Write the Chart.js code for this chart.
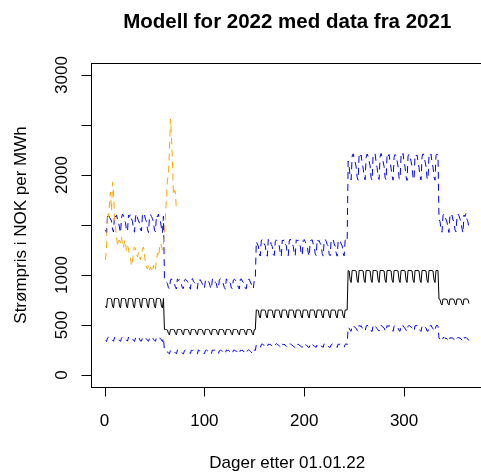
<!DOCTYPE html>
<html>
<head>
<meta charset="utf-8">
<script src="https://cdn.jsdelivr.net/npm/chart.js@4.4.1/dist/chart.umd.min.js"></script>
<style>
  html, body { margin: 0; padding: 0; background: #fff; width: 481px; height: 475px; overflow: hidden; }
  #wrap { position: relative; width: 490px; height: 475px; }
  canvas { display: block; }
</style>
</head>
<body>
<div id="wrap"><canvas id="c" width="490" height="475"></canvas></div>
<script>
// Daily price model for 2022 (NOK/MWh), built from 2021 data.
// Seasons: Jan-Feb (days 1-59), Mar-May (60-151), Jun-Aug (152-243), Sep-Nov (244-334), Dec (335-365).
// Day 1 (01.01.22) is a Saturday.

const title = "Modell for 2022 med data fra 2021";
const xTitle = "Dager etter 01.01.22";
const yTitle = "Strømpris i NOK per MWh";
const xTicks = [0, 100, 200, 300];
const yTicks = [0, 500, 1000, 1500, 2000, 2500, 3000];
const yTickLabels = ["0", "500", "1000", "", "2000", "", "3000"];

// Model median
const median = [
  690,670,
  765,765,765,765,760,690,670, 765,765,765,765,760,690,670, 765,765,765,765,760,690,670, 765,765,765,765,760,690,670,
  765,765,765,765,760,690,670, 765,765,765,765,760,690,670, 765,765,765,765,760,690,670, 765,765,765,765,760,690,670,
  765,
  455,455,455,450,415,400,
  455,455,455,455,450,415,400, 455,455,455,455,450,415,400, 455,455,455,455,450,415,400, 455,455,455,455,450,415,400,
  455,455,455,455,450,415,400, 455,455,455,455,450,415,400, 455,455,455,455,450,415,400, 455,455,455,455,450,415,400,
  455,455,455,455,450,415,400, 455,455,455,455,450,415,400, 455,455,455,455,450,415,400, 455,455,455,455,450,415,400,
  455,455,
  650,650,645,590,570,
  650,650,650,650,645,590,570, 650,650,650,650,645,590,570, 650,650,650,650,645,590,570, 650,650,650,650,645,590,570,
  650,650,650,650,645,590,570, 650,650,650,650,645,590,570, 650,650,650,650,645,590,570, 650,650,650,650,645,590,570,
  650,650,650,650,645,590,570, 650,650,650,650,645,590,570, 650,650,650,650,645,590,570, 650,650,650,650,645,590,570,
  650,650,650,
  1045,1040,950,925,
  1045,1045,1045,1045,1040,950,925, 1045,1045,1045,1045,1040,950,925, 1045,1045,1045,1045,1040,950,925,
  1045,1045,1045,1045,1040,950,925, 1045,1045,1045,1045,1040,950,925, 1045,1045,1045,1045,1040,950,925,
  1045,1045,1045,1045,1040,950,925, 1045,1045,1045,1045,1040,950,925, 1045,1045,1045,1045,1040,950,925,
  1045,1045,1045,1045,1040,950,925, 1045,1045,1045,1045,1040,950,925, 1045,1045,1045,1045,1040,950,925,
  1045,1045,1045,
  760,755,715,700,
  760,760,760,760,755,715,700, 760,760,760,760,755,715,700, 760,760,760,760,755,715,700,
  760,760,760,760,755,715
];

// Upper bound of the model band
const upper = [
  1450,1425,
  1590,1612,1575,1560,1540,1460,1430, 1605,1580,1598,1555,1530,1470,1422, 1570,1610,1590,1548,1525,1445,1435,
  1600,1585,1608,1562,1535,1465,1428, 1582,1615,1570,1540,1520,1452,1440, 1610,1590,1600,1558,1532,1462,1425,
  1575,1605,1585,1565,1528,1448,1432, 1598,1580,1610,1552,1538,1470,1420,
  1590,
  958,940,932,915,872,862,
  950,962,940,930,915,875,860, 962,945,955,928,910,868,865, 945,958,950,935,918,880,858, 955,965,938,925,912,870,862,
  960,948,952,930,908,872,866, 942,960,945,935,920,878,860, 958,950,962,926,915,865,863, 948,963,940,932,910,874,858,
  962,945,955,928,918,870,865, 950,958,948,936,912,876,860, 956,962,940,925,915,868,862, 945,955,958,930,910,872,864,
  952,960,
  1335,1310,1290,1210,1190,
  1340,1358,1330,1310,1292,1215,1188, 1355,1335,1348,1305,1285,1205,1195, 1332,1352,1340,1315,1290,1220,1186,
  1350,1340,1356,1308,1295,1210,1192, 1338,1360,1335,1318,1288,1218,1190, 1352,1342,1350,1305,1292,1208,1196,
  1345,1355,1332,1312,1290,1222,1187, 1336,1350,1352,1310,1286,1212,1194, 1358,1338,1345,1316,1294,1216,1189,
  1342,1356,1338,1306,1290,1206,1193, 1350,1345,1355,1314,1288,1220,1188, 1340,1352,1342,1310,1292,1212,1191,
  1348,1355,1338,
  2140,2085,1975,1950,
  2190,2212,2170,2130,2080,1975,1948, 2205,2180,2200,2120,2070,1985,1952, 2175,2210,2185,2140,2090,1968,1946,
  2200,2195,2212,2125,2075,1980,1955, 2185,2215,2178,2135,2085,1972,1950, 2210,2188,2205,2128,2068,1990,1948,
  2178,2205,2190,2142,2088,1965,1956, 2198,2182,2215,2122,2078,1982,1945, 2190,2210,2180,2138,2082,1976,1952,
  2205,2192,2200,2130,2072,1988,1950, 2182,2212,2188,2136,2086,1970,1954, 2200,2185,2208,2126,2080,1978,1948,
  2195,2210,2185,
  1560,1535,1455,1428,
  1595,1612,1580,1558,1530,1462,1425, 1605,1588,1600,1550,1538,1450,1432, 1580,1610,1592,1562,1525,1468,1420,
  1600,1585,1615,1555,1532,1458
];

// Lower bound of the model band
const lower = [
  345,335,
  372,378,368,375,362,348,337, 376,370,379,366,360,342,336, 368,380,372,370,358,350,338, 378,366,375,372,364,345,335,
  370,377,368,380,360,340,339, 375,372,378,365,362,348,336, 366,379,370,374,358,344,337, 377,368,376,370,365,350,335,
  372,
  248,240,238,232,218,212,
  245,250,240,238,232,220,213, 250,242,248,236,230,216,211, 242,252,244,240,234,222,214, 248,245,250,235,228,218,212,
  252,240,246,238,232,215,213, 244,250,242,240,230,221,210, 250,246,252,236,234,217,214, 242,248,245,239,228,219,212,
  251,243,248,237,232,216,213, 246,252,240,241,230,222,211, 249,244,250,235,233,218,214, 243,251,246,238,229,215,212,
  250,245,
  300,298,290,280,276,
  305,312,300,298,290,282,276, 310,304,308,296,288,278,277, 302,314,306,300,292,284,275, 312,300,310,294,290,280,278,
  306,313,302,299,286,279,276, 311,305,309,297,291,283,277, 303,314,304,301,289,278,275, 309,302,312,295,292,281,278,
  305,311,300,298,288,284,276, 313,306,308,296,290,277,277, 302,312,305,300,292,282,275, 310,304,311,297,287,280,278,
  306,313,302,
  476,468,445,437,
  490,498,482,475,468,446,436, 496,486,494,472,465,450,438, 484,500,488,478,470,442,435, 498,490,496,474,466,448,439,
  488,499,485,479,471,444,436, 495,484,497,473,464,451,437, 486,500,490,477,469,443,438, 497,488,495,475,467,449,435,
  485,498,487,480,472,445,439, 494,490,499,472,465,447,436, 489,497,484,478,470,441,438, 496,487,498,474,466,450,437,
  490,499,486,
  368,360,345,338,
  372,376,366,370,360,347,336, 375,368,374,365,358,342,339, 366,377,371,369,362,349,335,
  374,370,376,364,359,344
];

// Observed spot price, first days of 2022
const observed = [
  1150,1280,1620,1580,1720,1830,1640,1930,1830,1560,
  1480,1390,1290,1340,1350,1320,1380,1300,1270,1350,
  1310,1240,1290,1260,1200,1170,1090,1130,1230,1280,
  1260,1220,1180,1230,1180,1150,1200,1260,1280,1200,
  1120,1080,1060,1100,1050,1080,1060,1030,1100,1040,
  1060,1150,1220,1180,1260,1320,1290,1250,1320,1420,
  1600,1760,1950,2000,2230,2560,2400,2150,1800,1850,
  1820,1650
];

const toPoints = arr => arr.map((v, i) => ({ x: i + 1, y: v }));

const FONT = '"Liberation Sans", Arial, Helvetica, sans-serif';
const AX = 17;

// R-style frame, axes and labels
const frame = {
  id: 'frame',
  afterDraw(chart) {
    const ctx = chart.ctx;
    const a = chart.chartArea;
    const xs = chart.scales.x, ys = chart.scales.y;
    ctx.save();
    ctx.strokeStyle = '#000';
    ctx.fillStyle = '#000';
    ctx.lineWidth = 1;
    ctx.strokeRect(Math.round(a.left) + 0.5, Math.round(a.top) + 0.5,
                   Math.round(a.right - a.left), Math.round(a.bottom - a.top));
    const bottom = Math.round(a.bottom) + 0.5;
    const left = Math.round(a.left) + 0.5;
    ctx.beginPath();
    xTicks.forEach(t => {
      const px = Math.round(xs.getPixelForValue(t)) + 0.5;
      ctx.moveTo(px, bottom); ctx.lineTo(px, bottom + 9);
    });
    yTicks.forEach(t => {
      const py = Math.round(ys.getPixelForValue(t)) + 0.5;
      ctx.moveTo(left, py); ctx.lineTo(left - 10, py);
    });
    ctx.stroke();

    ctx.font = AX + 'px ' + FONT;
    ctx.textAlign = 'center';
    ctx.textBaseline = 'alphabetic';
    xTicks.forEach(t => ctx.fillText(String(t), xs.getPixelForValue(t), 426));
    ctx.fillText(xTitle, (a.left + a.right) / 2, 468);

    yTicks.forEach((t, i) => {
      if (!yTickLabels[i]) return;
      ctx.save();
      ctx.translate(67, ys.getPixelForValue(t));
      ctx.rotate(-Math.PI / 2);
      ctx.fillText(yTickLabels[i], 0, 0);
      ctx.restore();
    });
    ctx.save();
    ctx.translate(26, (a.top + a.bottom) / 2);
    ctx.rotate(-Math.PI / 2);
    ctx.fillText(yTitle, 0, 0);
    ctx.restore();

    ctx.font = 'bold 20.5px ' + FONT;
    ctx.fillText(title, (a.left + a.right) / 2, 28);
    ctx.restore();
  }
};

new Chart(document.getElementById('c'), {
  type: 'line',
  data: {
    datasets: [
      { data: toPoints(observed), borderColor: '#FFA500', borderDash: [7, 5] },
      { data: toPoints(upper), borderColor: '#0000FF', borderDash: [7, 5] },
      { data: toPoints(lower), borderColor: '#0000FF', borderDash: [7, 5] },
      { data: toPoints(median), borderColor: '#000000' }
    ]
  },
  options: {
    responsive: false,
    animation: false,
    devicePixelRatio: 1,
    layout: { padding: { left: 91, top: 63, right: 6.5, bottom: 88 } },
    elements: {
      line: { borderWidth: 1, tension: 0, fill: false },
      point: { radius: 0, hoverRadius: 0 }
    },
    scales: {
      x: { type: 'linear', min: -13.56, max: 379.56, display: false },
      y: { type: 'linear', min: -120, max: 3120, display: false }
    },
    plugins: { legend: { display: false }, tooltip: { enabled: false } },
    events: []
  },
  plugins: [frame]
});
</script>
</body>
</html>
